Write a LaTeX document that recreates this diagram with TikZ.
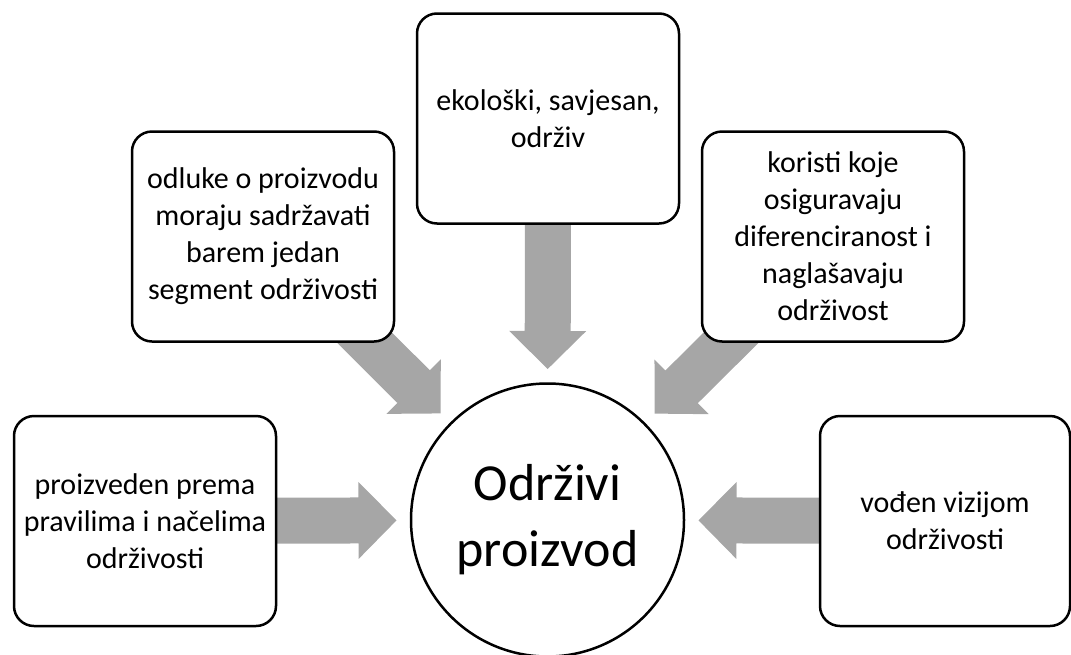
\documentclass[tikz,border=0pt]{standalone}
\usepackage{fontspec}
\setmainfont{Carlito}
\usetikzlibrary{calc,backgrounds}
\definecolor{arrowgray}{HTML}{A6A6A6}
\tikzset{
  trait/.style={draw,line width=2.5pt,rounded corners=20pt,fill=white,
    minimum width=262pt,minimum height=210pt,inner sep=0pt,align=center,
    font=\fontsize{30}{37}\selectfont},
  core/.style={draw,circle,line width=2.5pt,fill=white,minimum size=273pt,
    inner sep=0pt,align=center,font=\fontsize{52}{66}\selectfont},
  push/.style={fill=arrowgray,to path={
    let \p1=($(\tikztotarget)!151pt!(\tikztostart)$),
        \p2=($(\p1)!38pt!(\tikztostart)$)
    in ($(\tikztostart)!23pt!90:(\p1)$) -- ($(\p2)!23pt!-90:(\tikztostart)$)
       -- ($(\p2)!38.5pt!-90:(\tikztostart)$) -- (\p1)
       -- ($(\p2)!38.5pt!90:(\tikztostart)$) -- ($(\p2)!23pt!90:(\tikztostart)$)
       -- ($(\tikztostart)!23pt!-90:(\p1)$) -- cycle}},
}
\begin{document}
\begin{tikzpicture}[x=1pt,y=-1pt]
  \useasboundingbox (0,0) rectangle (1071,654);
  %% product in the middle
  \node[core] (prod) at (547.5,520) {Održivi\\proizvod};
  %% surrounding traits
  \node[trait] (made) at (145,521) {proizveden prema\\pravilima i načelima\\održivosti};
  \node[trait] (decide) at (263,236.5) {odluke o proizvodu\\moraju sadržavati\\barem jedan\\segment održivosti};
  \node[trait] (eco) at (548,118.5) {ekološki, savjesan,\\održiv};
  \node[trait] (gain) at (833,236.5) {koristi koje\\osiguravaju\\diferenciranost i\\naglašavaju\\održivost};
  \node[trait,minimum width=250pt] (vision) at (945,521) {vođen vizijom\\održivosti};
  %% block arrows
  \begin{pgfonlayer}{background}
    \foreach \n in {made,decide,eco,gain,vision}
      \path[push] (\n.center) to (prod);
  \end{pgfonlayer}
\end{tikzpicture}
\end{document}
